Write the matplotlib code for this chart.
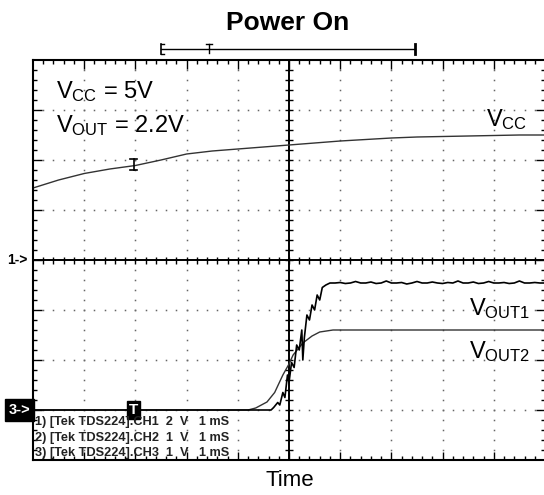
import numpy as np
import matplotlib
matplotlib.use('Agg')
import matplotlib.pyplot as plt

plt.rcParams['font.family'] = ['Liberation Sans', 'DejaVu Sans']
plt.rcParams['mathtext.default'] = 'regular'

# Scope traces in divisions (x: 1 mS/div, y: screen divisions)
vcc_t = [0, 0.5, 1, 1.5, 2, 2.5, 3, 3.5, 4, 4.5, 5, 5.5, 6, 6.5, 7, 7.5, 8, 8.5, 9, 9.5, 10]
vcc_v = [5.44, 5.60, 5.73, 5.82, 5.89, 6.00, 6.12, 6.18, 6.22, 6.26, 6.30, 6.34, 6.38,
         6.41, 6.44, 6.46, 6.47, 6.48, 6.49, 6.50, 6.50]

vout1_t = [0, 4.65, 4.7, 4.78, 4.82, 4.88, 4.92, 4.97, 5.0, 5.05, 5.1, 5.15, 5.2, 5.25,
           5.27, 5.3, 5.35, 5.4, 5.45, 5.5, 5.55, 5.6, 5.65, 5.72, 5.8]
vout1_v = [1.0, 1.0, 1.05, 1.15, 1.1, 1.35, 1.25, 1.7, 1.55, 1.95, 1.85, 2.3, 2.2, 2.6,
           2.0, 2.45, 2.9, 2.8, 3.1, 3.0, 3.3, 3.2, 3.45, 3.5, 3.54]
# noisy plateau of VOUT1, one reading every 0.1 div from 5.9 to 10.0
vout1_flat = [3.54, 3.55, 3.53, 3.54, 3.57, 3.54, 3.54, 3.56, 3.53, 3.54, 3.58, 3.54,
              3.54, 3.55, 3.52, 3.54, 3.57, 3.54, 3.54, 3.56, 3.54, 3.53, 3.55, 3.54,
              3.58, 3.54, 3.54, 3.56, 3.53, 3.54, 3.57, 3.54, 3.54, 3.55, 3.53, 3.54,
              3.58, 3.54, 3.54, 3.55, 3.54, 3.54]

vout2_t = [0, 4.2, 4.35, 4.57, 4.72, 4.88, 5.0, 5.08, 5.27, 5.45, 5.6, 5.86, 10]
vout2_v = [1.0, 1.0, 1.04, 1.16, 1.35, 1.7, 1.92, 2.1, 2.34, 2.48, 2.56, 2.6, 2.6]

trigger_t = 1.97
info_lines = ["1) [Tek TDS224].CH1  2  V   1 mS",
              "2) [Tek TDS224].CH2  1  V   1 mS",
              "3) [Tek TDS224].CH3  1  V   1 mS"]

W, H = 544, 495
fig = plt.figure(figsize=(W / 100, H / 100), dpi=100)
ax = fig.add_axes([33 / W, 35 / H, 512 / W, 400 / H])
ax.set_xlim(0, 10)
ax.set_ylim(0, 8)
ax.set_xticks([])
ax.set_yticks([])
for s in ['left', 'top', 'bottom']:
    ax.spines[s].set_linewidth(1.5)
ax.spines['right'].set_visible(False)

# dotted graticule
steps_y = np.arange(1, 40) * 0.2
steps_x = np.arange(1, 50) * 0.2
for gx in [1, 2, 3, 4, 6, 7, 8, 9]:
    ax.plot(np.full(len(steps_y), gx), steps_y, ls='none', marker='s', ms=1.1,
            mew=0, color='#666666')
for gy in [1, 2, 3, 5, 6, 7]:
    ax.plot(steps_x, np.full(len(steps_x), gy), ls='none', marker='s', ms=1.1,
            mew=0, color='#666666')

# centre cross with ticks
ax.axhline(4, color='black', lw=1.4)
ax.axvline(5, color='black', lw=1.4)
major_x = np.isclose(steps_x % 1, 0) | np.isclose(steps_x % 1, 1)
major_y = np.isclose(steps_y % 1, 0) | np.isclose(steps_y % 1, 1)
ax.vlines(steps_x, 4 - 0.07, 4 + 0.07, color='black', lw=1)
ax.hlines(steps_y, 5 - 0.07, 5 + 0.07, color='black', lw=1)

# edge ticks
len_y = np.where(major_y, 0.17, 0.08)
len_x = np.where(major_x, 0.17, 0.08)
ax.hlines(steps_y, 0, len_y, color='black', lw=1)
ax.hlines(steps_y, 10 - len_y, 10, color='black', lw=1)
ax.vlines(steps_x, 8 - len_x, 8, color='black', lw=1)
ax.vlines(steps_x, 0, len_x, color='black', lw=1)

# traces
ax.plot(vcc_t, vcc_v, color='#333333', lw=1.0)
ax.plot(vout2_t, vout2_v, color='#333333', lw=1.0)
flat_t = np.round(np.arange(5.9, 10.01, 0.1), 2)
ax.plot(list(vout1_t) + list(flat_t), vout1_v + vout1_flat, color='black', lw=1.2)

# trigger marker on VCC trace
ty = np.interp(trigger_t, vcc_t, vcc_v)
ax.plot([trigger_t, trigger_t], [ty - 0.08, ty + 0.14], color='black', lw=1.2)
ax.plot([trigger_t - 0.07, trigger_t + 0.07], [ty + 0.14, ty + 0.14], color='black', lw=1.2)
ax.plot([trigger_t - 0.07, trigger_t + 0.07], [ty - 0.08, ty - 0.08], color='black', lw=1.2)

# trigger box on the CH3 ground line
ax.text(trigger_t, 1.0, 'T', color='white', fontsize=11, fontweight='bold',
        ha='center', va='center', zorder=5,
        bbox=dict(boxstyle='square,pad=0.12', fc='black', ec='black'))

# record-window bracket above the screen
by = 8.22
ax.plot([2.5, 7.46], [by, by], color='black', lw=1, clip_on=False)
ax.plot([2.5, 2.5], [by - 0.1, by + 0.1], color='black', lw=1.2, clip_on=False)
ax.plot([2.5, 2.56], [by + 0.1, by + 0.1], color='black', lw=1, clip_on=False)
ax.plot([2.5, 2.56], [by - 0.1, by - 0.1], color='black', lw=1, clip_on=False)
ax.plot([7.46, 7.46], [by - 0.1, by + 0.1], color='black', lw=2, clip_on=False)
ax.plot([3.44, 3.44], [by - 0.08, by + 0.1], color='black', lw=1, clip_on=False)
ax.plot([3.38, 3.50], [by + 0.1, by + 0.1], color='black', lw=1, clip_on=False)

# labels inside the screen
lab = dict(fontsize=17, color='black', va='baseline')
ax.text(0.45, 7.24, r'V$_{CC}$ = 5V', **lab)
ax.text(0.45, 6.56, r'V$_{OUT}$ = 2.2V', **lab)
ax.text(9.65, 6.68, r'V$_{CC}$', ha='right', **lab)
ax.text(9.71, 2.90, r'V$_{OUT1}$', ha='right', **lab)
ax.text(9.71, 2.04, r'V$_{OUT2}$', ha='right', **lab)

for i, line in enumerate(info_lines):
    fig.text(35 / W, 1 - (422 + 15.5 * i) / H, line, fontsize=9.2, fontweight='bold',
             color='#222222', ha='left', va='center')

# channel ground markers
fig.text(7 / W, 1 - 260 / H, '1->', fontsize=10, fontweight='bold', ha='left', va='center')
fig.text(9 / W, 1 - 410 / H, '3->', fontsize=10.5, fontweight='bold', color='white',
         ha='left', va='center',
         bbox=dict(boxstyle='square,pad=0.25', fc='black', ec='black'))

fig.text(288 / W, 1 - 23 / H, 'Power On', fontsize=19, fontweight='bold',
         ha='center', va='center')
fig.text(290 / W, 1 - 480 / H, 'Time', fontsize=16, ha='center', va='center')

fig.savefig('out.png', dpi=100)
